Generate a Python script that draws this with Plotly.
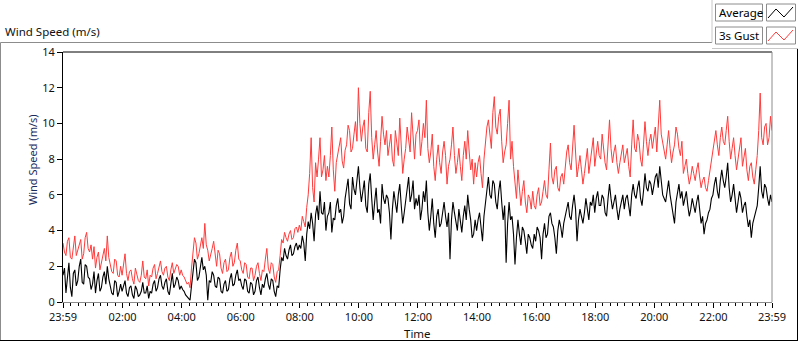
import plotly.graph_objects as go

# ---- data (3-minute steps from 23:59 to 23:59 next day) ----
minutes = list(range(0, 1441, 3))

gust = [
    3.3, 2.8, 2.6, 3.4, 3.6, 2.5, 2.4, 3.1, 3.7, 2.6, 2.9, 3.3, 3.5, 2.4, 2.7, 3.6, 3.9, 3.0, 2.8, 3.2,
    2.4, 3.1, 1.9, 2.5, 2.8, 1.8, 2.2, 2.6, 3.0, 2.3, 3.7, 2.5, 2.1, 1.7, 1.6, 2.4, 2.3, 1.5, 1.4, 2.0,
    1.5, 2.0, 2.7, 1.6, 1.2, 1.7, 1.8, 1.3, 1.0, 1.9, 1.6, 1.2, 1.1, 1.5, 2.3, 1.4, 1.3, 1.8, 0.9, 1.5,
    1.4, 1.9, 2.1, 1.3, 1.6, 2.0, 2.3, 1.7, 1.5, 1.9, 2.0, 1.4, 1.2, 1.8, 2.2, 1.6, 1.8, 2.1, 2.0, 1.5,
    1.8, 1.5, 1.4, 1.2, 1.0, 1.1, 0.8, 1.9, 2.8, 3.6, 3.3, 2.4, 2.7, 3.2, 3.6, 3.0, 4.4, 3.2, 2.9, 2.3,
    2.6, 3.0, 3.4, 2.5, 2.0, 2.9, 2.7, 1.9, 1.6, 2.2, 2.4, 1.7, 1.8, 2.5, 2.8, 2.0, 2.2, 2.9, 3.3, 2.4,
    2.3, 1.8, 1.6, 2.2, 2.1, 1.4, 1.3, 1.9, 1.9, 1.2, 1.5, 2.0, 2.2, 1.6, 1.2, 1.8, 1.7, 2.4, 3.0, 1.9,
    1.6, 2.2, 2.1, 1.4, 1.1, 1.7, 1.8, 2.6, 3.5, 3.3, 3.9, 3.6, 3.4, 3.8, 4.0, 3.5, 3.6, 4.1, 4.2, 3.9,
    4.3, 4.0, 4.8, 4.5, 4.2, 5.3, 6.0, 7.2, 9.2, 6.4, 5.6, 7.8, 7.0, 8.0, 9.2, 7.0, 7.4, 8.2, 6.8, 7.6,
    7.0, 8.2, 9.8, 7.4, 6.2, 7.8, 8.3, 8.8, 9.2, 7.9, 7.5, 8.5, 8.8, 9.9, 9.6, 8.4, 8.6, 9.4, 10.1, 9.0,
    12.0, 10.0, 9.0, 9.8, 10.2, 8.6, 8.4, 10.6, 11.8, 9.2, 8.0, 8.8, 9.6, 8.4, 7.6, 9.0, 10.4, 9.4, 8.8, 9.6,
    8.2, 8.8, 9.4, 8.0, 7.6, 9.6, 8.9, 8.2, 10.3, 8.6, 7.2, 8.0, 8.6, 9.8, 9.2, 8.4, 10.6, 9.0, 8.0, 9.4,
    9.6, 10.2, 8.2, 9.0, 10.0, 9.2, 11.3, 8.6, 7.8, 8.4, 9.4, 7.6, 6.8, 8.0, 8.8, 7.8, 7.2, 8.4, 9.0, 8.2,
    6.6, 7.6, 8.0, 8.8, 9.8, 8.2, 7.2, 7.8, 8.6, 7.6, 6.8, 8.2, 9.0, 8.0, 9.6, 8.4, 7.4, 8.0, 6.6, 7.8,
    7.0, 7.8, 8.2, 7.2, 6.4, 8.0, 9.0, 9.8, 10.2, 9.2, 8.6, 10.6, 11.5, 9.8, 9.4, 10.4, 10.8, 9.0, 7.8, 8.4,
    8.8, 10.0, 11.3, 8.0, 9.0, 7.6, 6.6, 5.8, 7.4, 6.4, 5.4, 6.2, 6.8, 5.6, 5.0, 6.0, 5.8, 5.2, 6.2, 5.4,
    5.2, 6.0, 6.4, 5.4, 5.6, 6.2, 6.8, 6.0, 5.8, 7.4, 8.9, 7.0, 6.6, 7.4, 7.6, 6.4, 6.2, 7.0, 7.2, 6.6,
    7.8, 8.4, 8.8, 7.8, 7.4, 8.6, 9.9, 8.4, 7.0, 7.6, 8.2, 7.4, 6.6, 7.2, 7.8, 8.6, 7.2, 8.0, 8.6, 9.2,
    7.6, 8.4, 9.0, 8.2, 8.0, 9.4, 8.6, 7.8, 7.4, 8.8, 10.2, 8.6, 7.8, 8.4, 8.8, 7.8, 7.2, 7.8, 8.2, 8.8,
    7.8, 8.2, 8.6, 7.6, 7.0, 8.8, 10.2, 8.6, 8.4, 9.4, 9.0, 8.0, 7.6, 8.8, 10.1, 9.0, 8.2, 9.0, 9.4, 8.6,
    9.2, 9.8, 8.4, 9.6, 11.3, 9.4, 9.0, 8.4, 8.0, 8.8, 9.6, 8.6, 7.8, 8.4, 8.8, 9.8, 9.4, 8.6, 8.2, 9.0,
    7.2, 7.6, 8.0, 7.2, 6.6, 7.0, 7.6, 7.2, 6.8, 7.4, 7.8, 7.0, 6.4, 6.8, 7.0, 6.4, 6.2, 6.8, 7.4, 8.0,
    8.4, 9.0, 9.6, 8.8, 8.2, 9.2, 9.8, 9.0, 8.8, 9.6, 10.4, 9.0, 8.0, 8.6, 9.2, 8.2, 7.4, 8.0, 8.6, 9.2,
    7.6, 8.2, 8.6, 7.4, 6.8, 7.6, 7.8, 7.0, 6.6, 7.4, 8.2, 9.6, 11.7, 9.2, 8.8, 9.8, 10.0, 8.8, 9.2, 10.4,
    9.6,
]

average = [
    1.5, 1.9, 0.5, 1.4, 2.2, 0.8, 0.3, 1.6, 1.8, 0.9, 1.2, 2.0, 2.4, 1.1, 1.0, 2.1, 2.0, 1.4, 1.3, 0.7,
    1.0, 1.7, 0.5, 1.2, 1.6, 0.6, 0.8, 1.4, 1.7, 1.0, 2.0, 1.3, 0.9, 0.5, 0.4, 1.2, 1.1, 0.3, 0.6, 1.0,
    0.6, 1.0, 1.2, 0.5, 0.3, 0.8, 0.9, 0.4, 0.2, 0.9, 0.7, 0.3, 0.4, 0.6, 1.1, 0.5, 0.5, 0.9, 0.2, 0.6,
    0.5, 1.0, 1.2, 0.6, 0.8, 1.3, 1.5, 0.9, 0.7, 1.1, 1.3, 0.6, 0.4, 1.0, 1.6, 0.8, 1.0, 1.4, 1.2, 0.7,
    0.9, 0.7, 0.6, 0.4, 0.3, 0.2, 0.1, 0.9, 1.6, 2.4, 2.2, 1.2, 1.4, 2.0, 2.5, 1.8, 2.0, 1.5, 0.1, 1.2,
    1.1, 1.7, 1.5, 0.9, 0.8, 1.4, 1.3, 0.6, 0.5, 1.0, 1.2, 0.6, 0.7, 1.3, 1.6, 0.9, 1.0, 1.5, 1.8, 1.2,
    1.3, 0.9, 0.7, 1.3, 1.2, 0.6, 0.5, 1.1, 1.0, 0.4, 0.6, 1.2, 1.4, 0.8, 0.4, 1.0, 0.8, 1.3, 1.6, 1.0,
    0.7, 1.3, 1.2, 0.6, 0.3, 0.9, 0.8, 1.8, 2.5, 2.3, 3.0, 2.6, 2.4, 2.9, 3.2, 2.6, 2.7, 3.1, 3.3, 2.9,
    3.2, 3.0, 3.7, 3.3, 2.3, 3.8, 4.5, 4.1, 5.0, 4.4, 3.4, 4.9, 5.4, 4.6, 6.2, 5.0, 4.9, 5.6, 4.0, 4.8,
    5.0, 5.6, 3.9, 4.7, 4.6, 5.4, 5.8, 5.0, 5.2, 4.4, 4.8, 5.8, 6.4, 6.9, 5.5, 5.2, 7.0, 6.3, 6.0, 6.7,
    7.6, 6.4, 5.6, 6.2, 6.8, 5.4, 5.0, 6.6, 7.2, 5.8, 4.6, 5.6, 6.4, 5.0, 5.2, 4.4, 6.6, 5.8, 5.5, 6.0,
    5.8, 5.0, 3.5, 5.2, 6.2, 5.6, 5.0, 6.0, 6.6, 5.4, 4.4, 5.0, 5.6, 6.4, 7.0, 5.6, 6.0, 6.8, 5.2, 5.8,
    5.4, 6.0, 4.6, 5.2, 6.2, 5.6, 6.8, 5.0, 4.0, 4.8, 5.8, 4.4, 3.6, 4.8, 5.2, 4.2, 4.4, 5.0, 5.6, 4.8,
    4.2, 5.0, 2.4, 4.6, 5.6, 5.0, 4.4, 4.0, 5.2, 4.6, 3.9, 4.8, 5.4, 4.6, 6.0, 5.2, 4.6, 3.6, 3.8, 4.6,
    4.0, 4.6, 5.0, 4.2, 3.4, 4.8, 5.6, 6.2, 7.0, 6.0, 5.8, 6.8, 6.6, 5.6, 5.2, 6.2, 6.8, 5.6, 4.6, 5.4,
    2.2, 4.4, 5.6, 4.6, 4.8, 3.8, 2.1, 3.6, 4.6, 3.8, 3.2, 4.2, 4.0, 3.4, 2.7, 3.8, 3.6, 3.2, 3.0, 3.8,
    3.4, 4.2, 4.0, 3.6, 2.4, 3.8, 4.4, 3.6, 3.8, 4.8, 5.0, 4.4, 4.2, 3.6, 2.7, 4.0, 4.6, 4.2, 3.6, 4.4,
    4.8, 5.4, 5.6, 4.8, 4.6, 5.4, 6.0, 5.2, 3.4, 4.6, 5.2, 4.8, 4.4, 5.0, 5.8, 5.2, 4.6, 5.6, 5.4, 6.0,
    5.0, 5.8, 6.2, 5.4, 5.4, 6.0, 5.8, 5.0, 4.8, 5.8, 6.6, 5.8, 5.2, 5.6, 6.0, 5.2, 4.6, 5.2, 5.6, 6.0,
    5.2, 5.8, 6.0, 5.4, 4.8, 6.0, 6.6, 6.0, 5.8, 6.4, 6.8, 5.8, 5.4, 6.2, 7.2, 6.4, 6.2, 6.8, 6.6, 6.0,
    6.6, 7.0, 7.2, 6.4, 7.6, 6.8, 6.0, 5.8, 5.6, 6.2, 6.8, 6.0, 5.4, 5.0, 4.4, 5.6, 6.2, 6.6, 5.8, 6.2,
    5.4, 5.8, 6.2, 5.4, 4.8, 5.2, 5.8, 5.4, 5.0, 5.6, 6.0, 5.2, 4.4, 4.8, 3.8, 4.4, 4.6, 5.0, 5.2, 5.8,
    6.0, 6.6, 7.0, 6.2, 5.8, 6.8, 7.4, 6.8, 6.4, 7.0, 7.8, 6.4, 5.6, 6.0, 6.6, 5.8, 5.0, 5.6, 6.2, 5.8,
    5.0, 5.4, 5.6, 4.8, 4.2, 4.6, 3.6, 4.4, 4.8, 5.2, 5.4, 6.4, 7.6, 6.2, 5.8, 6.6, 6.4, 5.8, 5.4, 6.0,
    5.6,
]

x_tick_vals = [0, 121, 241, 361, 481, 601, 721, 841, 961, 1081, 1201, 1321, 1440]
x_tick_text = ["23:59", "02:00", "04:00", "06:00", "08:00", "10:00", "12:00",
               "14:00", "16:00", "18:00", "20:00", "22:00", "23:59"]
y_tick_vals = [0, 2, 4, 6, 8, 10, 12, 14]

series_names = ["Average", "3s Gust"]
series_colors = ["#000000", "#ff3b3b"]

# ---- figure ----
W, H = 800, 342
L, R, T, B = 63, 772, 52, 302


def px(x):
    return (x - L) / (R - L)


def py(y):
    return (B - y) / (B - T)


FONT = "Noto Sans"
fig = go.Figure()
fig.add_trace(go.Scatter(x=minutes, y=gust, mode="lines", name=series_names[1],
                         line=dict(color=series_colors[1], width=1), showlegend=False))
fig.add_trace(go.Scatter(x=minutes, y=average, mode="lines", name=series_names[0],
                         line=dict(color=series_colors[0], width=1.1), showlegend=False))

minor_vals = [v for v in range(1, 1440, 15)]

fig.update_layout(
    width=W, height=H,
    margin=dict(l=L, r=W - R, t=T, b=H - B, autoexpand=False),
    paper_bgcolor="white", plot_bgcolor="white",
    showlegend=False,
    font=dict(family=FONT, size=11, color="#111111"),
    xaxis=dict(
        range=[0, 1440], tickmode="array", tickvals=x_tick_vals, ticktext=x_tick_text,
        showgrid=False, zeroline=False, showline=True, linecolor="#8c8c8c", linewidth=1,
        ticks="outside", ticklen=5, tickcolor="#000", tickwidth=1,
        minor=dict(tickmode="array", tickvals=minor_vals, ticks="outside", ticklen=3,
                   tickcolor="#000", showgrid=False),
        tickfont=dict(family=FONT, size=11, color="#111"),
        automargin=False, fixedrange=True,
    ),
    yaxis=dict(
        range=[0, 14], tickmode="array", tickvals=y_tick_vals,
        showgrid=False, zeroline=False, showline=True, linecolor="#000", linewidth=1,
        ticks="outside", ticklen=5, tickcolor="#000",
        tickfont=dict(family=FONT, size=11, color="#111"),
        automargin=False, fixedrange=True,
    ),
)

shapes = []
# plot frame top (black) and right (gray)
shapes.append(dict(type="line", xref="paper", yref="paper", x0=0, x1=1, y0=1, y1=1,
                   line=dict(color="#000", width=1)))
shapes.append(dict(type="line", xref="paper", yref="paper", x0=1, x1=1, y0=0, y1=1,
                   line=dict(color="#8c8c8c", width=1)))
# outer panel frame
shapes.append(dict(type="line", xref="paper", yref="paper", x0=px(0.5), x1=px(712), y0=py(42.5), y1=py(42.5),
                   line=dict(color="#8c8c8c", width=1)))
shapes.append(dict(type="line", xref="paper", yref="paper", x0=px(0.5), x1=px(0.5), y0=py(42.5), y1=py(341),
                   line=dict(color="#8c8c8c", width=1)))
shapes.append(dict(type="line", xref="paper", yref="paper", x0=px(0), x1=px(798), y0=py(340.5), y1=py(340.5),
                   line=dict(color="#000", width=1)))
shapes.append(dict(type="line", xref="paper", yref="paper", x0=px(797.5), x1=px(797.5), y0=py(48.5), y1=py(341),
                   line=dict(color="#000", width=1)))
shapes.append(dict(type="line", xref="paper", yref="paper", x0=px(712), x1=px(712), y0=py(0), y1=py(42.5),
                   line=dict(color="#c8c8c8", width=1)))
shapes.append(dict(type="line", xref="paper", yref="paper", x0=px(712), x1=px(798), y0=py(48.5), y1=py(48.5),
                   line=dict(color="#c8c8c8", width=1)))

annotations = []
# legend boxes
for i, (nm, col) in enumerate(zip(series_names, series_colors)):
    y0 = 4 + i * 23
    y1 = y0 + 17
    shapes.append(dict(type="rect", xref="paper", yref="paper", x0=px(715.5), x1=px(762.5),
                       y0=py(y1), y1=py(y0), line=dict(color="#8c8c8c", width=1), fillcolor="white"))
    shapes.append(dict(type="rect", xref="paper", yref="paper", x0=px(766.5), x1=px(795.5),
                       y0=py(y1), y1=py(y0), line=dict(color="#8c8c8c", width=1), fillcolor="white"))
    pts = [(768, y0 + 14), (776, y0 + 5), (784, y0 + 13), (793, y0 + 3)]
    path = "M " + " L ".join(f"{px(a):.5f},{py(b):.5f}" for a, b in pts)
    shapes.append(dict(type="path", xref="paper", yref="paper", path=path,
                       line=dict(color=col, width=1)))
    annotations.append(dict(xref="paper", yref="paper", x=px(717), y=py((y0 + y1) / 2),
                            text=nm, showarrow=False, xanchor="left", yanchor="middle",
                            font=dict(family=FONT, size=11.5, color="#000")))

annotations.append(dict(xref="paper", yref="paper", x=px(3), y=py(32), text="Wind Speed (m/s)",
                        showarrow=False, xanchor="left", yanchor="middle",
                        font=dict(family=FONT, size=11.5, color="#111")))
annotations.append(dict(xref="paper", yref="paper", x=px(417), y=py(333), text="Time",
                        showarrow=False, xanchor="center", yanchor="middle",
                        font=dict(family=FONT, size=11.5, color="#111")))
annotations.append(dict(xref="paper", yref="paper", x=px(32), y=py(160), text="Wind Speed (m/s)",
                        showarrow=False, xanchor="center", yanchor="middle", textangle=-90,
                        font=dict(family=FONT, size=11, color="#1a2a5a")))

fig.update_layout(shapes=shapes, annotations=annotations)
fig.write_html("out.html", config={"displayModeBar": False},
               post_script="document.body.style.margin='0';document.body.style.overflow='hidden';")
